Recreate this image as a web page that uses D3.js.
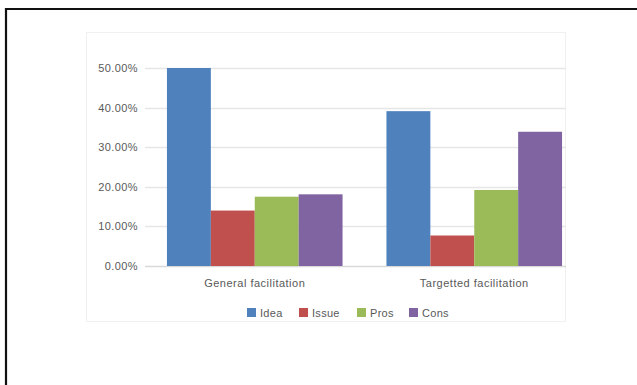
<!DOCTYPE html>
<html>
<head>
<meta charset="utf-8">
<script src="https://cdn.jsdelivr.net/npm/d3@7"></script>
<style>
  body { margin: 0; background: #fff; }
  svg { display: block; }
  text { font-family: "Liberation Sans", Arial, sans-serif; fill: #595959; }
</style>
</head>
<body>
<div id="chart"></div>
<script>
// groups on the x axis
var groups = ['General facilitation', 'Targetted facilitation'];
var seriesNames = ['Idea', 'Issue', 'Pros', 'Cons'];
// share per series, one value per group
var idea = [0.500, 0.391];
var issue = [0.140, 0.077];
var pros = [0.175, 0.192];
var cons = [0.181, 0.339];
var yTicks = [0, 0.1, 0.2, 0.3, 0.4, 0.5];

var colors = d3.scaleOrdinal()
  .domain(seriesNames)
  .range(['#4f81bd', '#c0504d', '#9bbb59', '#8064a2']);

var w = 637, h = 385;
var svg = d3.select('#chart').append('svg')
  .attr('width', w)
  .attr('height', h);

// outer frame (only top and left edges show in the picture)
svg.append('path')
  .attr('d', 'M6,' + h + 'V9H' + w)
  .attr('fill', 'none')
  .attr('stroke', '#111')
  .attr('stroke-width', 2.2);

// faint chart area box
svg.append('rect')
  .attr('x', 86.5).attr('y', 32.5)
  .attr('width', 479).attr('height', 289)
  .attr('fill', 'none')
  .attr('stroke', '#f0f0f0');

var plotLeft = 145, plotRight = 566;
var y = d3.scaleLinear().domain([0, 0.5]).range([266, 68]);
var x0 = d3.scaleBand().domain(groups).range([plotLeft, 584]).paddingInner(0.2).paddingOuter(0.1);
var x1 = d3.scaleBand().domain(seriesNames).range([0, x0.bandwidth()]);

// grid lines
svg.append('g').selectAll('line')
  .data(yTicks)
  .enter().append('line')
  .attr('x1', plotLeft).attr('x2', plotRight)
  .attr('y1', d => Math.round(y(d)) + 0.5)
  .attr('y2', d => Math.round(y(d)) + 0.5)
  .attr('stroke', d => d === 0 ? '#d9d9d9' : '#e6e6e6')
  .attr('stroke-width', 1.3);

// y tick labels
svg.append('g').selectAll('text')
  .data(yTicks)
  .enter().append('text')
  .attr('x', 138)
  .attr('y', d => y(d) + 4)
  .attr('text-anchor', 'end')
  .style('font-size', '11px')
  .style('letter-spacing', '0.4px')
  .text(d => d3.format('.2%')(d));

var rows = groups.map((g, i) => ({
  group: g,
  values: [idea[i], issue[i], pros[i], cons[i]].map((v, j) => ({ name: seriesNames[j], value: v }))
}));

var groupG = svg.selectAll('.group')
  .data(rows)
  .enter().append('g')
  .attr('class', 'group')
  .attr('transform', d => 'translate(' + x0(d.group) + ',0)');

groupG.selectAll('rect')
  .data(d => d.values)
  .enter().append('rect')
  .attr('x', d => x1(d.name))
  .attr('width', x1.bandwidth())
  .attr('y', d => y(d.value))
  .attr('height', d => y(0) - y(d.value))
  .attr('fill', d => colors(d.name));

// category labels
svg.append('g').selectAll('text')
  .data(groups)
  .enter().append('text')
  .attr('x', d => x0(d) + x0.bandwidth() / 2)
  .attr('y', 287)
  .attr('text-anchor', 'middle')
  .style('font-size', '11px')
  .style('letter-spacing', '0.5px')
  .text(d => d);

// legend
var legendX = [247, 299, 357, 409];
var legend = svg.selectAll('.legend')
  .data(seriesNames)
  .enter().append('g')
  .attr('class', 'legend')
  .attr('transform', (d, i) => 'translate(' + legendX[i] + ',308)');

legend.append('rect')
  .attr('width', 9).attr('height', 9)
  .attr('fill', d => colors(d));

legend.append('text')
  .attr('x', 13)
  .attr('y', 9)
  .style('font-size', '11px')
  .style('letter-spacing', '0.3px')
  .text(d => d);
</script>
</body>
</html>
